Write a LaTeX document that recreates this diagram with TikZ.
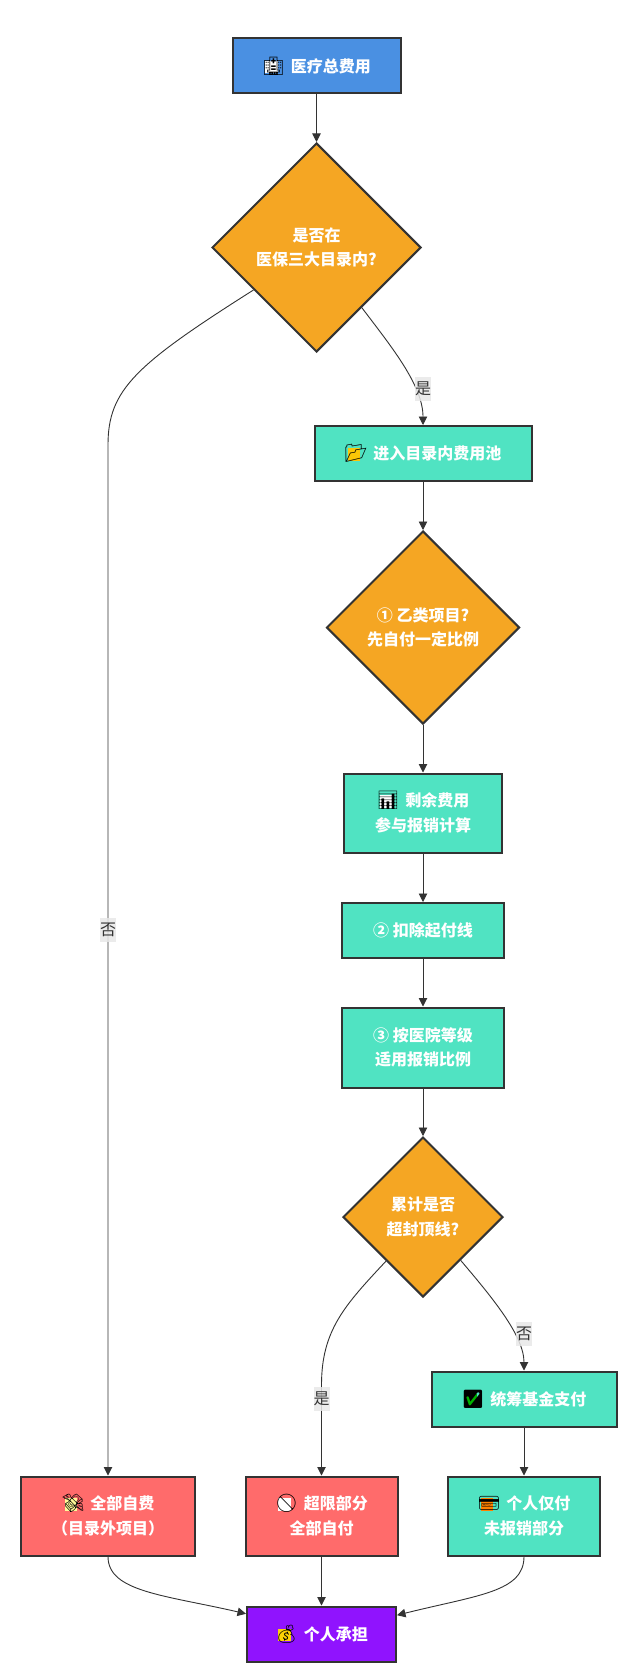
\documentclass[tikz,border=0pt]{standalone}
\usepackage{xcolor}
\usepackage{fontspec}
\usetikzlibrary{shapes.geometric, arrows.meta}
\setmainfont{Noto Sans CJK SC}
\newfontfamily\emojifont{Noto Emoji}
\definecolor{startblue}{HTML}{4A90E2}
\definecolor{askorange}{HTML}{F5A623}
\definecolor{stepgreen}{HTML}{50E3C2}
\definecolor{selfred}{HTML}{FF6B6B}
\definecolor{endpurple}{HTML}{9013FE}
\definecolor{inkgray}{HTML}{333333}
\definecolor{labelgray}{HTML}{E8E8E8}
\newcommand{\emopic}[2]{\smash{\rlap{\hspace{3pt}\raisebox{-1pt}{\textcolor{#1}{\rule{12.5pt}{12.5pt}}}}{\mdseries\emojifont\fontsize{18}{18}\selectfont\color{black}#2}}\hspace{6pt}}
\tikzset{
  flowbox/.style={draw=inkgray, line width=2pt, text=white, align=center, inner sep=0pt,
    font=\bfseries\fontsize{16}{24.5}\selectfont},
  greenbox/.style={flowbox, fill=stepgreen},
  redbox/.style={flowbox, fill=selfred},
  askdiamond/.style={flowbox, diamond, aspect=1, fill=askorange},
  edgelabel/.style={fill=labelgray, fill opacity=0.85, text opacity=1, text=inkgray, inner sep=0pt,
    minimum width=16pt, minimum height=24pt, font=\fontsize{16}{16}\selectfont},
  link/.style={draw=inkgray, line width=0.9pt, -{Triangle[length=8.5pt,width=8.5pt]}}
}

\begin{document}
\begin{tikzpicture}[x=1pt, y=-1pt]
  \useasboundingbox (0,0) rectangle (639,1675);
  \fill[white] (0,0) rectangle (639,1675);

  \node[flowbox, fill=startblue, minimum width=168pt, minimum height=55pt] (total) at (316.5,66) {\emopic{white}{🏥}医疗总费用};
  \node[askdiamond, minimum width=209pt, minimum height=209pt] (inlist) at (316.5,247.5) {是否在\\医保三大目录内?};
  \node[greenbox, minimum width=217pt, minimum height=55pt] (pool) at (423,453.5) {\emopic{yellow!60!orange}{📂}进入目录内费用池};
  \node[askdiamond, minimum width=193pt, minimum height=193pt] (classb) at (423,627.5) {① 乙类项目?\\先自付一定比例};
  \node[greenbox, minimum width=158pt, minimum height=79pt] (rest) at (423,813) {\emopic{white}{📊}剩余费用\\参与报销计算};
  \node[greenbox, minimum width=162pt, minimum height=55pt] (deduct) at (423,930.5) {② 扣除起付线};
  \node[greenbox, minimum width=162pt, minimum height=80pt] (ratio) at (423,1047.5) {③ 按医院等级\\适用报销比例};
  \node[askdiamond, minimum width=160pt, minimum height=160pt] (cap) at (423,1217) {累计是否\\超封顶线?};
  \node[greenbox, minimum width=185pt, minimum height=55pt] (fund) at (524,1399) {\emopic{green!70!black}{✅}统筹基金支付};
  \node[redbox, minimum width=174pt, minimum height=79pt] (outside) at (108,1516) {\emopic{yellow!40!white}{💸}全部自费\\（目录外项目）};
  \node[redbox, minimum width=152pt, minimum height=79pt] (over) at (321.5,1516) {\emopic{white}{🚫}超限部分\\全部自付};
  \node[greenbox, minimum width=152pt, minimum height=79pt] (unpaid) at (524,1516) {\emopic{orange}{💳}个人仅付\\未报销部分};
  \node[flowbox, fill=endpurple, minimum width=149pt, minimum height=55pt] (burden) at (321.5,1634) {\emopic{yellow!70!orange}{💰}个人承担};

  \draw[link] (total) -- (inlist);
  \draw[link] (inlist.-53) .. controls (390,345) and (423,385) .. (pool.north);
  \draw[link] (inlist.214.5) .. controls (135,365) and (108,390) .. (108,445) -- (outside.north);
  \draw[link] (pool) -- (classb);
  \draw[link] (classb) -- (rest);
  \draw[link] (rest) -- (deduct);
  \draw[link] (deduct) -- (ratio);
  \draw[link] (ratio) -- (cap);
  \draw[link] (cap.-49) .. controls (490,1295) and (524,1335) .. (fund.north);
  \draw[link] (cap.230) .. controls (345,1305) and (321.5,1330) .. (321.5,1385) -- (over.north);
  \draw[link] (fund) -- (unpaid);
  \draw[link] (outside.south) .. controls (108,1592) and (165,1595) .. (burden.165.7);
  \draw[link] (over) -- (burden);
  \draw[link] (unpaid.south) .. controls (524,1592) and (478,1595) .. (burden.14.3);

  \node[edgelabel] (yes1) at (423,389) {是};
  \node[edgelabel] (no1) at (108,930) {否};
  \node[edgelabel] (yes2) at (321.5,1399) {是};
  \node[edgelabel] (no2) at (524,1334) {否};
\end{tikzpicture}
\end{document}
